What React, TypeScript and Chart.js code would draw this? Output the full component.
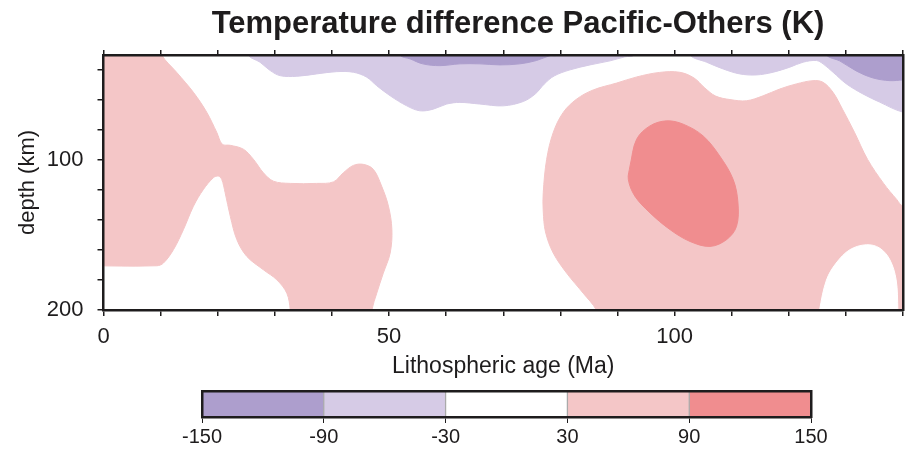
import React, { useEffect, useRef } from 'react';
import { Chart, registerables } from 'chart.js';

Chart.register(...registerables);

// ---- axes ----
const ageMin = 0;
const ageMax = 140;
const depthMin = 30;
const depthMax = 200;
const ageTicks = [0, 10, 20, 30, 40, 50, 60, 70, 80, 90, 100, 110, 120, 130, 140];
const ageTickLabels = [0, 50, 100];
const depthTicks = [40, 60, 80, 100, 120, 140, 160, 180, 200];
const depthTickLabels = [100, 200];

// ---- colour scale (K) ----
const levels = [-150, -90, -30, 30, 90, 150];
const levelColors = ['#ad9ecd', '#d6cbe6', '#ffffff', '#f4c6c7', '#f08d8f'];

// ---- contour regions: [age (Ma), depth (km)] ----
const warmWest: [number, number][] = [
  [-3, 20], [9.6, 20], [10.2, 30], [12.8, 41.5], [15.75, 54.9], [18.1, 68.3], [19.85, 81.7],
  [20.8, 89.5], [22.2, 90.2], [24.5, 92.8], [26.25, 99.5], [28.0, 108.5], [29.75, 114.1],
  [32.7, 115.6], [37.35, 115.6], [40.25, 114.6], [42.0, 108.5], [43.75, 103.6], [45.5, 102.9],
  [47.25, 106.2], [48.7, 117.4], [49.9, 130.8], [50.5, 146.4], [50.2, 162], [49.0, 175.4],
  [47.85, 188.8], [47.0, 200], [46.8, 210], [32.7, 210], [32.7, 200], [32.1, 188.8],
  [30.35, 179.9], [28.0, 173.2], [25.1, 164.3], [23.35, 153.1], [22.2, 137.5], [21.3, 121.8],
  [20.7, 112.9], [20.1, 110.7], [19.25, 111.8], [17.5, 119.6], [15.75, 130.8], [14.0, 146.4],
  [12.25, 159.8], [10.5, 168.7], [9.35, 170.5], [-3, 170.5],
];

const warmEast: [number, number][] = [
  [87, 210], [86.3, 200], [84.0, 188.8], [81.1, 175.4], [78.75, 162], [77.4, 148], [77.0, 134],
  [77.0, 121.9], [77.6, 99.55], [78.75, 81.7], [80.5, 68.3], [82.85, 59.4], [85.75, 53.3],
  [89.85, 48.7], [93.4, 44.6], [97.4, 41.6], [100.9, 41.5], [103.4, 45.3], [105.3, 52.0],
  [107.2, 57.4], [109.7, 59.7], [112.6, 60.5], [115.5, 57.2], [118.4, 52.7], [121.3, 49.3],
  [124.25, 47.1], [126.0, 48.2], [127.75, 54.9], [129.4, 66.1], [131.5, 81.5], [133.8, 99.6],
  [136.6, 115.6], [138.9, 126.3], [140, 130.8], [145, 134], [145, 210],
];

const neutralPocket: [number, number][] = [
  [125.2, 210], [125.4, 200], [126.6, 180], [128.3, 168.7], [130.7, 159.8], [133.6, 156.5],
  [135.9, 158.7], [137.7, 166.5], [138.8, 179.9], [139.1, 200], [139.1, 210],
];

const hotCore: [number, number][] = [
  [92.2, 104.0], [93.35, 86.2], [95.7, 77.25], [98.6, 73.9], [101.5, 76.1], [105.0, 83.95],
  [107.9, 97.3], [110.25, 112.9], [111.1, 128.55], [110.85, 144.2], [109.1, 153.1],
  [106.2, 157.6], [102.7, 154.3], [99.2, 146.4], [95.7, 135.25], [93.05, 124.1], [91.9, 112.9],
  [92.2, 104.0],
];

const coolWest: [number, number][] = [
  [25.0, 20], [25.3, 30], [27.4, 34.8], [29.2, 40.4], [30.95, 43.8], [33.85, 44.2], [37.35, 42.6],
  [40.85, 41.1], [43.75, 41.5], [46.1, 44.8], [47.85, 50.5], [50.2, 57.2], [53.1, 63.9],
  [55.4, 67.2], [57.75, 66.1], [60.1, 62.7], [62.4, 61.6], [65.9, 62.7], [70.0, 63.9],
  [73.5, 61.0], [75.6, 56.0], [77.2, 49.3], [78.9, 44.0], [81.7, 39.9], [85.2, 36.6],
  [88.7, 33.9], [91.3, 31.2], [92.9, 30], [93.2, 20],
];

const coldWest: [number, number][] = [
  [51.7, 20], [51.9, 30], [53.7, 32.6], [55.9, 35.9], [58.9, 37.1], [62.4, 35.9], [65.9, 35.9],
  [69.4, 36.6], [72.9, 35.9], [75.8, 33.7], [78.2, 30.4], [79.3, 30], [79.5, 20],
];

const coolEast: [number, number][] = [
  [102.5, 20], [102.7, 30], [105.6, 34.8], [108.5, 39.3], [111.4, 42.6], [114.3, 43.3],
  [117.25, 41.5], [120.2, 38.1], [122.5, 34.8], [124.85, 33.7], [126.0, 35.9], [127.75, 41.5],
  [130.1, 49.3], [133.0, 56.0], [135.9, 61.4], [140, 68.1], [145, 70], [145, 20],
];

const coldEast: [number, number][] = [
  [126.4, 20], [126.6, 30], [128.9, 33.9], [131.8, 40.6], [134.75, 45.3], [137.7, 47.1],
  [140, 46.6], [145, 46], [145, 20],
];

// drawing order: first = bottom
const regions: { pts: [number, number][]; level: number }[] = [
  { pts: warmWest, level: 3 },
  { pts: warmEast, level: 3 },
  { pts: neutralPocket, level: 2 },
  { pts: hotCore, level: 4 },
  { pts: coolWest, level: 1 },
  { pts: coldWest, level: 0 },
  { pts: coolEast, level: 1 },
  { pts: coldEast, level: 0 },
];

const FONT = "'Liberation Sans', Arial, Helvetica, sans-serif";
const INK = '#1e1c1d';
const FRAME = { display: true, color: INK, width: 2.5, z: 2 };

function mainConfig(): any {
  const datasets = regions.map((r, i) => ({
    data: r.pts.map(([x, y]) => ({ x, y })),
    backgroundColor: levelColors[r.level],
    borderColor: levelColors[r.level],
    borderWidth: 1,
    pointRadius: 0,
    pointHoverRadius: 0,
    fill: 'shape',
    tension: 0.35,
    clip: 0,
    order: regions.length - i,
  }));
  return {
    type: 'line',
    data: { datasets },
    options: {
      responsive: false,
      animation: false,
      events: [],
      layout: { padding: 0 },
      plugins: {
        legend: { display: false },
        tooltip: { enabled: false },
        title: {
          display: true,
          text: 'Temperature difference Pacific-Others (K)',
          color: INK,
          font: { family: FONT, size: 31, weight: 'bold', lineHeight: 1.2 },
          padding: { top: 6, bottom: 0 },
        },
      },
      scales: {
        x: {
          type: 'linear',
          position: 'bottom',
          min: ageMin,
          max: ageMax,
          afterBuildTicks: (s: any) => { s.ticks = ageTicks.map((v) => ({ value: v })); },
          afterFit: (s: any) => { s.height = 70; },
          ticks: {
            autoSkip: false,
            maxRotation: 0,
            padding: 8,
            color: INK,
            font: { family: FONT, size: 22 },
            callback: (v: number) => (ageTickLabels.includes(v) ? String(v) : ''),
          },
          grid: { drawOnChartArea: false, drawTicks: true, tickLength: 6, color: INK, lineWidth: 1.5, z: 1 },
          border: FRAME,
          title: {
            display: true,
            text: 'Lithospheric age (Ma)',
            color: INK,
            font: { family: FONT, size: 23, lineHeight: 1.2 },
            padding: { top: 0, bottom: 0 },
          },
        },
        x2: {
          type: 'linear',
          position: 'top',
          min: ageMin,
          max: ageMax,
          afterBuildTicks: (s: any) => { s.ticks = ageTicks.map((v) => ({ value: v })); },
          afterFit: (s: any) => { s.height = 11.8; },
          ticks: { display: false },
          grid: { drawOnChartArea: false, drawTicks: true, tickLength: 5, color: INK, lineWidth: 1.5, z: 1 },
          border: FRAME,
        },
        y: {
          type: 'linear',
          position: 'left',
          reverse: true,
          min: depthMin,
          max: depthMax,
          afterBuildTicks: (s: any) => { s.ticks = depthTicks.map((v) => ({ value: v })); },
          afterFit: (s: any) => { s.width = 103.5; },
          ticks: {
            autoSkip: false,
            padding: 14,
            color: INK,
            font: { family: FONT, size: 22 },
            callback: (v: number) => (depthTickLabels.includes(v) ? String(v) : ''),
          },
          grid: { drawOnChartArea: false, drawTicks: true, tickLength: 6, color: INK, lineWidth: 1.5, z: 1 },
          border: FRAME,
          title: {
            display: true,
            text: 'depth (km)',
            color: INK,
            font: { family: FONT, size: 22, lineHeight: 1.2 },
            padding: { top: 15, bottom: 0 },
          },
        },
        y2: {
          type: 'linear',
          position: 'right',
          min: depthMin,
          max: depthMax,
          afterFit: (s: any) => { s.width = 133; },
          ticks: { display: false },
          grid: { display: false },
          border: FRAME,
        },
      },
    },
  };
}

function barConfig(): any {
  const datasets = levelColors.map((c, i) => ({
    data: [[levels[i], levels[i + 1]]],
    backgroundColor: c,
    borderColor: 'rgba(120,120,120,0.55)',
    borderWidth: 1,
    borderSkipped: false,
    barPercentage: 1,
    categoryPercentage: 1,
    grouped: false,
  }));
  return {
    type: 'bar',
    data: { labels: [''], datasets },
    options: {
      indexAxis: 'y',
      responsive: false,
      animation: false,
      events: [],
      layout: { padding: 0 },
      plugins: { legend: { display: false }, tooltip: { enabled: false }, title: { display: false } },
      scales: {
        x: {
          type: 'linear',
          position: 'bottom',
          min: levels[0],
          max: levels[levels.length - 1],
          afterBuildTicks: (s: any) => { s.ticks = levels.map((v) => ({ value: v })); },
          afterFit: (s: any) => { s.height = 33; },
          ticks: {
            autoSkip: false,
            maxRotation: 0,
            padding: 2,
            color: INK,
            font: { family: FONT, size: 20 },
            callback: (v: number) => String(v),
          },
          grid: { drawOnChartArea: false, drawTicks: true, tickLength: 6, color: INK, lineWidth: 1, z: 1 },
          border: FRAME,
        },
        x2: {
          type: 'linear',
          position: 'top',
          min: levels[0],
          max: levels[levels.length - 1],
          afterFit: (s: any) => { s.height = 21; },
          ticks: { display: false },
          grid: { display: false },
          border: FRAME,
        },
        y: {
          type: 'category',
          position: 'left',
          afterFit: (s: any) => { s.width = 52; },
          ticks: { display: false },
          grid: { display: false },
          border: FRAME,
        },
        y2: {
          type: 'linear',
          position: 'right',
          afterFit: (s: any) => { s.width = 59; },
          ticks: { display: false },
          grid: { display: false },
          border: FRAME,
        },
      },
    },
  };
}

export default function App() {
  const mainRef = useRef<HTMLCanvasElement>(null);
  const barRef = useRef<HTMLCanvasElement>(null);

  useEffect(() => {
    const c1 = new Chart(mainRef.current as HTMLCanvasElement, mainConfig());
    const c2 = new Chart(barRef.current as HTMLCanvasElement, barConfig());
    return () => {
      c1.destroy();
      c2.destroy();
    };
  }, []);

  return (
    <div
      style={{
        position: 'fixed',
        left: 0,
        top: 0,
        width: 905,
        height: 453,
        overflow: 'hidden',
        background: '#ffffff',
      }}
    >
      <canvas ref={mainRef} width={1036} height={380} style={{ position: 'absolute', left: 0, top: 0 }} />
      <canvas ref={barRef} width={720} height={80} style={{ position: 'absolute', left: 150, top: 370 }} />
    </div>
  );
}
